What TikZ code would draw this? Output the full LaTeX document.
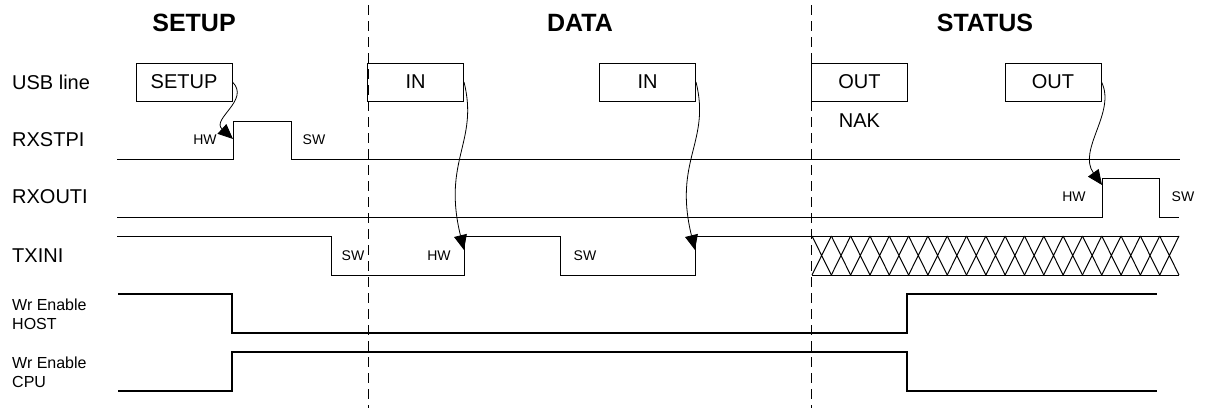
\documentclass[tikz,border=0pt]{standalone}
\usepackage{fontspec}
\setmainfont{Liberation Sans}
\usetikzlibrary{arrows.meta,positioning}

\begin{document}
\begin{tikzpicture}[x=1pt,y=-1pt,
	sig/.style={line width=1pt},
	wrsig/.style={line width=1.6pt},
	phaseline/.style={dash pattern=on 10pt off 6pt, line width=0.9pt},
	pkt/.style={draw, line width=1pt, minimum width=96pt, minimum height=38pt,
		inner sep=0pt, font=\fontsize{20}{24}\selectfont},
	phasettl/.style={inner sep=0pt, font=\fontsize{25}{30}\selectfont\bfseries},
	rowlbl/.style={anchor=west, inner sep=0pt, font=\fontsize{20}{24}\selectfont},
	wrlbl/.style={anchor=west, inner sep=0pt, align=left, font=\fontsize{16}{19}\selectfont},
	flag/.style={inner sep=0pt, font=\fontsize{14}{16}\selectfont},
	wake/.style={-{Triangle[length=15pt,width=13pt]}, line width=0.8pt}]

	\useasboundingbox (0,0) rectangle (1206,408);

	% phases
	\node[phasettl] (tsetup) at (194,23) {SETUP};
	\node[phasettl] (tdata) at (580,23) {DATA};
	\node[phasettl] (tstatus) at (985,23) {STATUS};
	\coordinate (divA top) at (368,5);
	\coordinate (divA bot) at (368,408);
	\coordinate (divB top) at (811,5);
	\coordinate (divB bot) at (811,408);
	\draw[phaseline] (divA top) -- (divA bot);
	\draw[phaseline] (divB top) -- (divB bot);

	% row names
	\node[rowlbl] (lusb) at (12,82) {USB line};
	\node[rowlbl] (lstpi) at (12,140) {RXSTPI};
	\node[rowlbl] (louti) at (12,197) {RXOUTI};
	\node[rowlbl] (ltxini) at (12,256) {TXINI};
	\node[wrlbl] (lhost) at (12,314) {Wr Enable\\HOST};
	\node[wrlbl] (lcpu) at (12,372) {Wr Enable\\CPU};

	% packets on the bus
	\node[pkt] (setupbox) at (184,82) {SETUP};
	\node[pkt] (inA) at (415.5,82) {IN};
	\node[pkt] (inB) at (647.5,82) {IN};
	\node[pkt] (outA) at (859.5,82) {OUT};
	\node[pkt] (outB) at (1053,82) {OUT};
	\node[inner sep=0pt, font=\fontsize{20}{24}\selectfont, below=12pt of outA] (nak) {NAK};

	% RXSTPI
	\draw[sig] (117,159) -- (233,159) -- (233,121) -- (291,121) -- (291,159) -- (1180,159);
	\node[flag] (stpihw) at (205,140) {HW};
	\node[flag] (stpisw) at (314,140) {SW};

	% RXOUTI
	\draw[sig] (117,217) -- (1102,217) -- (1102,178) -- (1159,178) -- (1159,217) -- (1179,217);
	\node[flag] (outihw) at (1074,197) {HW};
	\node[flag] (outisw) at (1183,197) {SW};

	% TXINI
	\draw[sig] (117,236) -- (331,236) -- (331,275) -- (464,275) -- (464,236) -- (560,236)
		-- (560,275) -- (695,275) -- (695,236) -- (811,236);
	\draw[sig] (812,236) -- (1179,236) (812,275) -- (1179,275);
	\foreach \i in {0,...,18}
		\draw[sig] ({812+\i*19.316},236) -- ({812+(\i+1)*19.316},275)
			({812+\i*19.316},275) -- ({812+(\i+1)*19.316},236);
	\node[flag] (txsw1) at (353,256) {SW};
	\node[flag] (txhw) at (439,256) {HW};
	\node[flag] (txsw2) at (585,256) {SW};

	% write enables
	\draw[wrsig] (118,294) -- (232,294) -- (232,333) -- (907,333) -- (907,294) -- (1157,294);
	\draw[wrsig] (118,391) -- (232,391) -- (232,352) -- (907,352) -- (907,391) -- (1157,391);

	% hardware set events
	\coordinate (stpiup) at (233,139);
	\coordinate (txupA) at (464,250);
	\coordinate (txupB) at (695,250);
	\coordinate (outiup) at (1102,185);
	\draw[wake] (setupbox.east) .. controls +(18,18) and +(-22,-20) .. (stpiup);
	\draw[wake] (inA.east) .. controls +(15,60) and +(-22,-90) .. (txupA);
	\draw[wake] (inB.east) .. controls +(15,60) and +(-22,-90) .. (txupB);
	\draw[wake] (outB.east) .. controls +(15,30) and +(-25,-35) .. (outiup);
\end{tikzpicture}
\end{document}
